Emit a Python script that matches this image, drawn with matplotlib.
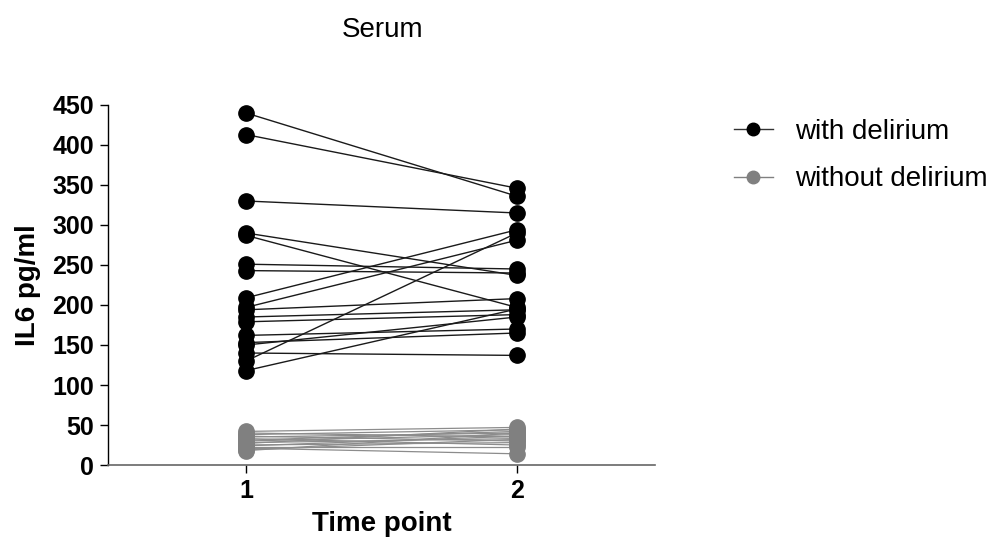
import matplotlib
matplotlib.use("Agg")
import matplotlib.pyplot as plt
from matplotlib.lines import Line2D

plt.rcParams["font.family"] = ["Liberation Sans", "DejaVu Sans"]

time_points = [1, 2]
tick_labels = ["1", "2"]

# IL6 (pg/ml) at time point 1 and 2, one entry per patient
delirium_t1 = [440, 413, 330, 290, 287, 251, 243, 209, 197, 194, 185, 179, 162, 153, 150, 140, 130, 118]
delirium_t2 = [336, 346, 315, 237, 197, 245, 240, 294, 281, 208, 194, 188, 170, 165, 185, 137, 290, 195]

no_delirium_t1 = [42, 40, 38, 36, 35, 33, 31, 30, 28, 27, 25, 24, 22, 21, 19, 18]
no_delirium_t2 = [47, 35, 44, 30, 40, 25, 42, 38, 33, 45, 28, 36, 22, 14, 32, 40]

black = "#000000"
grey = "#808080"

fig = plt.figure(figsize=(10.01, 5.52), dpi=100)
ax = fig.add_axes([0.1079, 0.1576, 0.5464, 0.6522])

# lines first, markers on top
for a, b in zip(no_delirium_t1, no_delirium_t2):
    ax.plot(time_points, [a, b], color="#8c8c8c", lw=0.9, zorder=1)
for a, b in zip(delirium_t1, delirium_t2):
    ax.plot(time_points, [a, b], color="#1a1a1a", lw=1.0, zorder=2)

ax.plot([1] * len(no_delirium_t1), no_delirium_t1, "o", color=grey, ms=11, zorder=3, clip_on=False)
ax.plot([2] * len(no_delirium_t2), no_delirium_t2, "o", color=grey, ms=11, zorder=3, clip_on=False)
ax.plot([1] * len(delirium_t1), delirium_t1, "o", color=black, ms=11, zorder=4, clip_on=False)
ax.plot([2] * len(delirium_t2), delirium_t2, "o", color=black, ms=11, zorder=4, clip_on=False)

ax.set_xlim(0.49, 2.51)
ax.set_ylim(0, 450)
ax.set_yticks(range(0, 451, 50))
ax.set_xticks(time_points)
ax.set_xticklabels(tick_labels)

for s in ["top", "right"]:
    ax.spines[s].set_visible(False)
ax.spines["left"].set_linewidth(1.0)
ax.spines["bottom"].set_linewidth(1.2)
ax.spines["bottom"].set_color("#666666")
ax.tick_params(axis="both", length=6, width=1.0, direction="out", pad=4)
for lab in ax.get_xticklabels() + ax.get_yticklabels():
    lab.set_fontsize(18)
    lab.set_fontweight("bold")

ax.set_ylabel("IL6 pg/ml", fontsize=20, fontweight="bold", labelpad=8)
ax.set_xlabel("Time point", fontsize=20, fontweight="bold", labelpad=6)
fig.text(0.382, 0.945, "Serum", fontsize=20, ha="center", va="center")

handles = [
    Line2D([], [], color="#333333", lw=1, marker="o", ms=9, markerfacecolor=black, markeredgecolor=black),
    Line2D([], [], color=grey, lw=1, marker="o", ms=9, markerfacecolor=grey, markeredgecolor=grey),
]
fig.legend(handles, ["with delirium", "without delirium"], loc="upper left",
           bbox_to_anchor=(0.722, 0.805), frameon=False, fontsize=20,
           handlelength=1.4, handletextpad=0.8, labelspacing=0.78, borderaxespad=0)

fig.savefig("out.png", dpi=100)
